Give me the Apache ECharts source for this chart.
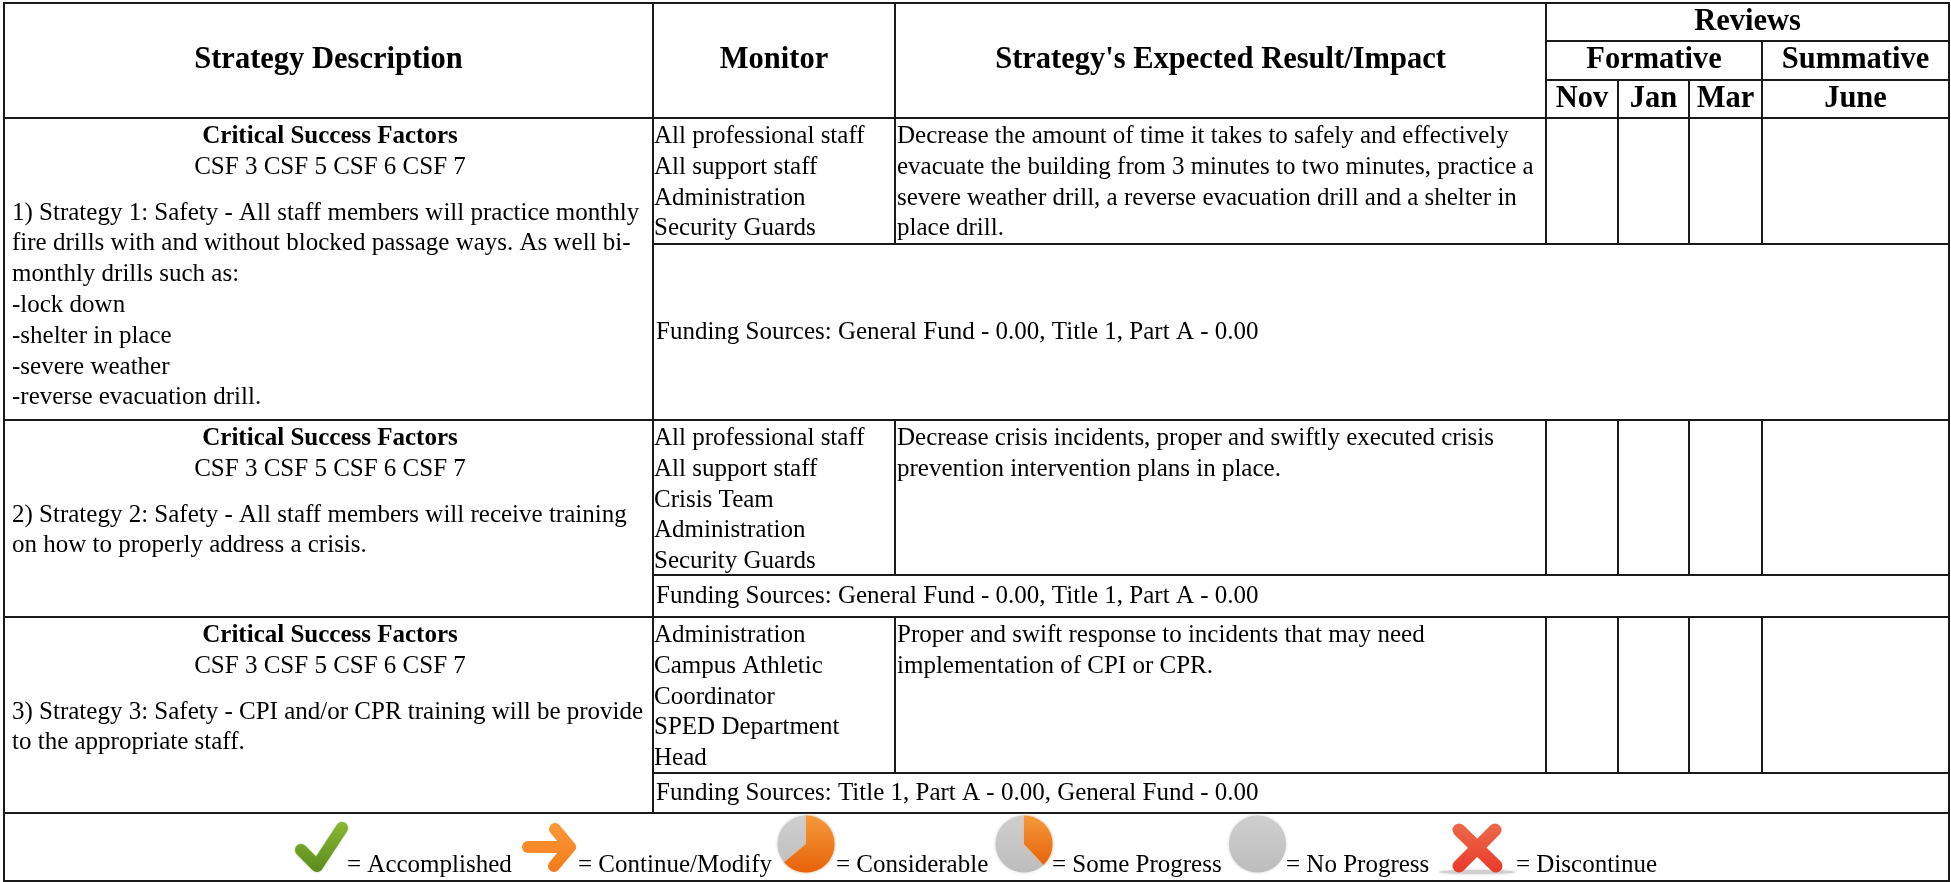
<!DOCTYPE html>
<html>
<head>
<meta charset="utf-8">
<style>
html, body { margin: 0; padding: 0; background: #fff; }
#main { width: 1951px; height: 882px; }
</style>
<script src="https://cdn.jsdelivr.net/npm/echarts@6/dist/echarts.min.js"></script>
</head>
<body>
<div id="main"></div>
<script>
var FONT = '"Liberation Serif", "Times New Roman", serif';
var TEXT_SIZE = 25;
var HEAD_SIZE = 30.5;
var LINE = 30.8;

// table content
var columnHeads = ['Strategy Description', 'Monitor', "Strategy's Expected Result/Impact"];
var reviewHeads = ['Reviews', 'Formative', 'Summative'];
var reviewMonths = ['Nov', 'Jan', 'Mar', 'June'];
var csfTitle = 'Critical Success Factors';
var csfList = 'CSF 3 CSF 5 CSF 6 CSF 7';
var strategies = [
  ['1) Strategy 1: Safety - All staff members will practice monthly', 'fire drills with and without blocked passage ways. As well bi-', 'monthly drills such as:', '-lock down', '-shelter in place', '-severe weather', '-reverse evacuation drill.'],
  ['2) Strategy 2: Safety - All staff members will receive training', 'on how to properly address a crisis.'],
  ['3) Strategy 3: Safety - CPI and/or CPR training will be provide', 'to the appropriate staff.']
];
var monitors = [
  ['All professional staff', 'All support staff', 'Administration', 'Security Guards'],
  ['All professional staff', 'All support staff', 'Crisis Team', 'Administration', 'Security Guards'],
  ['Administration', 'Campus Athletic', 'Coordinator', 'SPED Department', 'Head']
];
var impacts = [
  ['Decrease the amount of time it takes to safely and effectively', 'evacuate the building from 3 minutes to two minutes, practice a', 'severe weather drill, a reverse evacuation drill and a shelter in', 'place drill.'],
  ['Decrease crisis incidents, proper and swiftly executed crisis', 'prevention intervention plans in place.'],
  ['Proper and swift response to incidents that may need', 'implementation of CPI or CPR.']
];
var funding = [
  'Funding Sources: General Fund - 0.00, Title 1, Part A - 0.00',
  'Funding Sources: General Fund - 0.00, Title 1, Part A - 0.00',
  'Funding Sources: Title 1, Part A - 0.00, General Fund - 0.00'
];
var legendLabels = ['= Accomplished', '= Continue/Modify', '= Considerable', '= Some Progress', '= No Progress', '= Discontinue'];

// matrix layout
var colWidths = [649, 242, 651, 72, 71, 73, 187];
var rowHeights = [38, 39, 38, 126, 176, 155, 42, 156, 40, 68];

function headCell(x, y, text) {
  return {
    coord: [x, y], mergeCells: true, value: text,
    label: { fontFamily: FONT, fontSize: HEAD_SIZE, fontWeight: 'bold', color: '#000', overflow: 'none' }
  };
}

function leftCell(x, y, lines, pos, padLeft) {
  return {
    coord: [x, y], mergeCells: true, value: lines.join('\n'),
    label: {
      position: pos, distance: 0, align: 'left',
      padding: [3, 0, 0, padLeft],
      fontFamily: FONT, fontSize: TEXT_SIZE, lineHeight: LINE, color: '#000',
      overflow: 'none', lineOverflow: 'none'
    }
  };
}

function strategyCell(y, lines) {
  var text = '{t|' + csfTitle + '}\n{c|' + csfList + '}\n{g| }\n' + lines.map(function (l) {
    return '{l|' + l + '}';
  }).join('\n');
  return {
    coord: [0, y], mergeCells: true, value: text,
    label: {
      position: 'insideTopLeft', distance: 0, padding: [3, 0, 0, 8], width: 636,
      overflow: 'none', lineOverflow: 'none',
      rich: {
        t: { fontFamily: FONT, fontSize: TEXT_SIZE, fontWeight: 'bold', lineHeight: LINE, align: 'center', color: '#000' },
        c: { fontFamily: FONT, fontSize: TEXT_SIZE, lineHeight: LINE, align: 'center', color: '#000' },
        g: { fontSize: 10, lineHeight: 15 },
        l: { fontFamily: FONT, fontSize: TEXT_SIZE, lineHeight: LINE, align: 'left', color: '#000' }
      }
    }
  };
}

var cells = [
  headCell(0, [0, 2], columnHeads[0]),
  headCell(1, [0, 2], columnHeads[1]),
  headCell(2, [0, 2], columnHeads[2]),
  headCell([3, 6], 0, reviewHeads[0]),
  headCell([3, 5], 1, reviewHeads[1]),
  headCell(6, 1, reviewHeads[2])
];
reviewMonths.forEach(function (m, i) { cells.push(headCell(3 + i, 2, m)); });

// each strategy takes two rows: the monitor/impact row and the funding row
var strategyRows = [[3, 4], [5, 6], [7, 8]];
strategies.forEach(function (lines, i) {
  var r = strategyRows[i];
  cells.push(strategyCell(r, lines));
  cells.push(leftCell(1, r[0], monitors[i], 'insideTopLeft', 1));
  cells.push(leftCell(2, r[0], impacts[i], 'insideTopLeft', 2));
  cells.push(leftCell([1, 6], r[1], [funding[i]], 'insideLeft', 3));
});
cells.push({ coord: [[0, 6], 9], mergeCells: true, value: '' });

// legend glyphs at the bottom
function legendText(label, x) {
  return {
    type: 'text', z: 50, x: x, y: 878,
    style: { text: label, font: TEXT_SIZE + 'px ' + FONT, fill: '#000', textVerticalAlign: 'bottom' }
  };
}
function vGrad(top, bottom) {
  return new echarts.graphic.LinearGradient(0, 0, 0, 1, [{ offset: 0, color: top }, { offset: 1, color: bottom }]);
}
function pieIcon(cx, endAngle) {
  var items = [{
    type: 'circle', z: 50, shape: { cx: cx, cy: 844, r: 28.5 },
    style: { fill: vGrad('#cfcfcf', '#bdbdbd'), shadowBlur: 3, shadowColor: 'rgba(190,190,190,0.8)' }
  }];
  if (endAngle !== null) {
    items.push({
      type: 'sector', z: 51,
      shape: { cx: cx, cy: 844, r: 28.5, r0: 0, startAngle: -Math.PI / 2, endAngle: endAngle },
      style: { fill: vGrad('#f59a3c', '#e8620a'), shadowBlur: 3, shadowColor: 'rgba(250,180,110,0.8)' }
    });
  }
  return items;
}

var graphics = [
  { type: 'polyline', z: 50, shape: { points: [[301, 850], [317, 866], [342, 828]] }, style: { stroke: vGrad('#8ab832', '#5b8b1e'), lineWidth: 12, lineCap: 'round', lineJoin: 'round', fill: null, shadowBlur: 2, shadowColor: 'rgba(110,150,40,0.6)' } },
  { type: 'polyline', z: 50, shape: { points: [[528, 847], [568, 847]] }, style: { stroke: '#f98a2a', lineWidth: 12, lineCap: 'round', fill: null } },
  { type: 'polyline', z: 50, shape: { points: [[555, 829], [570, 847], [554, 866]] }, style: { stroke: vGrad('#fb9a3a', '#f47a18'), lineWidth: 12, lineCap: 'round', lineJoin: 'round', fill: null } },
  { type: 'ellipse', z: 49, shape: { cx: 1477, cy: 872, rx: 38, ry: 2 }, style: { fill: '#cfcfcf', shadowBlur: 3, shadowColor: '#ccc' } },
  { type: 'line', z: 50, shape: { x1: 1459, y1: 830, x2: 1496, y2: 866 }, style: { stroke: vGrad('#ec6a4c', '#e9392a'), lineWidth: 13, lineCap: 'round' } },
  { type: 'line', z: 50, shape: { x1: 1495, y1: 830, x2: 1459, y2: 866 }, style: { stroke: vGrad('#ec6a4c', '#e9392a'), lineWidth: 13, lineCap: 'round' } }
].concat(
  pieIcon(806, Math.PI * 140 / 180),
  pieIcon(1024, Math.PI * 47 / 180),
  pieIcon(1257.5, null),
  legendLabels.map(function (l, i) { return legendText(l, [347, 578, 836, 1052, 1286, 1516][i]); })
);

var chart = echarts.init(document.getElementById('main'));
chart.setOption({
  backgroundColor: '#fff',
  matrix: {
    left: 4, top: 3, width: 1945, height: 878,
    x: { show: false, data: colWidths.map(function (w, i) { return { value: 'c' + i, size: w }; }) },
    y: { show: false, data: rowHeights.map(function (h, i) { return { value: 'r' + i, size: h }; }) },
    body: {
      data: cells,
      itemStyle: { borderColor: '#1a1a1a', borderWidth: 2, color: '#fff' }
    },
    backgroundStyle: { borderColor: '#1a1a1a', borderWidth: 2 }
  },
  graphic: { elements: graphics }
});
</script>
</body>
</html>
